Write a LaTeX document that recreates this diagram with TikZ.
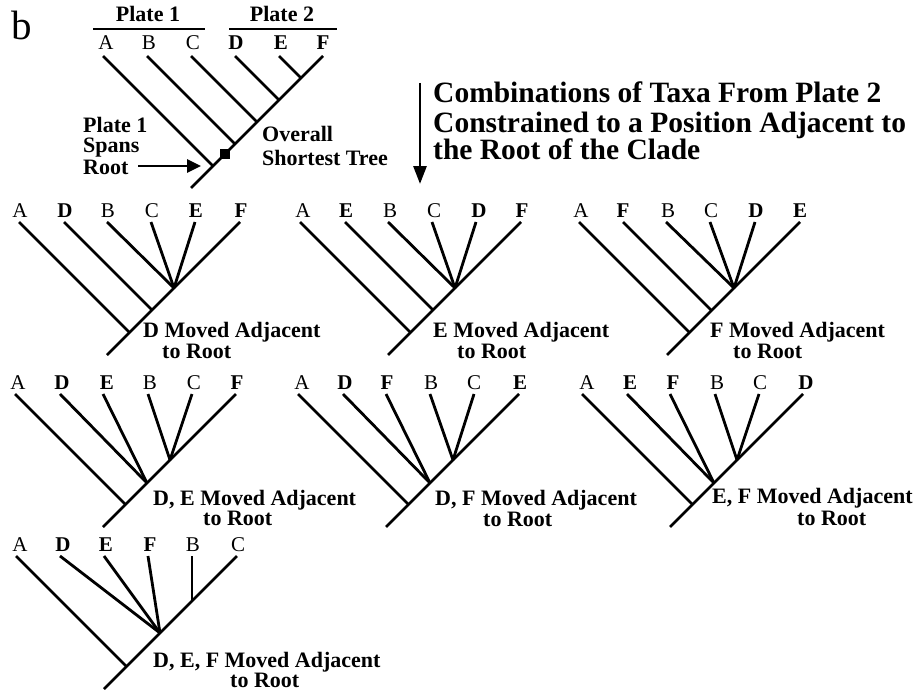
\documentclass[tikz,border=0pt]{standalone}
\usepackage{fontspec}
\setmainfont{Liberation Serif}
\usetikzlibrary{arrows.meta}
\tikzset{
  br/.style={line width=2.8pt},
  tx/.style={font=\fontsize{21}{22}\selectfont, inner sep=0pt, anchor=base},
  txb/.style={font=\bfseries\fontsize{21}{22}\selectfont, inner sep=0pt, anchor=base},
  lbl/.style={font=\bfseries\fontsize{22}{22}\selectfont, inner sep=0pt, anchor=base west},
  hdr/.style={font=\bfseries\fontsize{29.5}{28.5}\selectfont, inner sep=0pt, anchor=base west},
  arr/.style={line width=2.6pt, -{Triangle[length=14pt,width=13pt]}},
}
\begin{document}
\begin{tikzpicture}[x=1pt,y=-1pt]
\useasboundingbox (0,0) rectangle (918,690);

% panel letter
\node[font=\fontsize{41}{44}\selectfont, inner sep=0pt, anchor=base west] (panel) at (11,40) {b};

% ---------- top tree ----------
\node[lbl, anchor=base] (pl1) at (148,22) {Plate 1};
\node[lbl, anchor=base] (pl2) at (282,22) {Plate 2};
\coordinate (p1a) at (93,29); \coordinate (p1b) at (205,29);
\coordinate (p2a) at (229,29); \coordinate (p2b) at (337,29);
\draw[br] (p1a) -- (p1b);
\draw[br] (p2a) -- (p2b);

\coordinate (r0) at (191,188);
\coordinate (tA0) at (103,56); \coordinate (tB0) at (147,56); \coordinate (tC0) at (191,56);
\coordinate (tD0) at (235,56); \coordinate (tE0) at (279,56); \coordinate (tF0) at (323,56);
\coordinate (jA0) at (213,166); \coordinate (jB0) at (235,144); \coordinate (jC0) at (257,122);
\coordinate (jD0) at (279,100); \coordinate (jE0) at (301,78);
\draw[br] (r0) -- (tF0);
\draw[br] (tA0) -- (jA0);
\draw[br] (tB0) -- (jB0);
\draw[br] (tC0) -- (jC0);
\draw[br] (tD0) -- (jD0);
\draw[br] (tE0) -- (jE0);
\node[tx]  (lA0) at (106,50) {A};
\node[tx]  (lB0) at (149,50) {B};
\node[tx]  (lC0) at (193,50) {C};
\node[txb] (lD0) at (236,50) {D};
\node[txb] (lE0) at (281,50) {E};
\node[txb] (lF0) at (323,50) {F};
\node[fill=black, minimum size=10pt, inner sep=0pt] (sq) at (225,154) {};

\node[lbl] (sp1) at (83,132) {Plate 1};
\node[lbl] (sp2) at (83,153) {Spans};
\node[lbl] (sp3) at (83,175) {Root};
\coordinate (as) at (138,166); \coordinate (ae) at (201,166);
\draw[arr] (as) -- (ae);

\node[lbl] (ov1) at (262,142) {Overall};
\node[lbl] (ov2) at (262,165) {Shortest Tree};

% header arrow and text
\coordinate (da) at (420,83); \coordinate (db) at (420,184);
\draw[line width=2.8pt, -{Triangle[length=18pt,width=13pt]}] (da) -- (db);
\node[hdr] (h1) at (433,103) {Combinations of Taxa From Plate 2};
\node[hdr] (h2) at (433,132) {Constrained to a Position Adjacent to};
\node[hdr] (h3) at (433,160) {the Root of the Clade};

% ---------- tree 1 (D) ----------
\coordinate (r1) at (107,355); \coordinate (t16) at (240,222);
\coordinate (t11) at (19,222); \coordinate (t12) at (64,222); \coordinate (t13) at (107,222);
\coordinate (t14) at (151,222); \coordinate (t15) at (195,222);
\coordinate (j11) at (129.5,332.5); \coordinate (j12) at (152,310); \coordinate (P1) at (174,288);
\draw[br] (r1) -- (t16);
\draw[br] (t11) -- (j11);
\draw[br] (t12) -- (j12);
\draw[br] (t13) -- (P1);
\draw[br] (t14) -- (P1);
\draw[br] (t15) -- (P1);
\node[tx]  (l11) at (20,217) {A};
\node[txb] (l12) at (65,217) {D};
\node[tx]  (l13) at (108,217) {B};
\node[tx]  (l14) at (152,217) {C};
\node[txb] (l15) at (196,217) {E};
\node[txb] (l16) at (241,217) {F};
\node[lbl] (c1a) at (143,337) {D Moved Adjacent};
\node[lbl] (c1b) at (162,358) {to Root};

% ---------- tree 2 (E) ----------
\coordinate (r2) at (388,355); \coordinate (t26) at (521,222);
\coordinate (t21) at (300,222); \coordinate (t22) at (345,222); \coordinate (t23) at (388,222);
\coordinate (t24) at (432,222); \coordinate (t25) at (476,222);
\coordinate (j21) at (410.5,332.5); \coordinate (j22) at (433,310); \coordinate (P2) at (455,288);
\draw[br] (r2) -- (t26);
\draw[br] (t21) -- (j21);
\draw[br] (t22) -- (j22);
\draw[br] (t23) -- (P2);
\draw[br] (t24) -- (P2);
\draw[br] (t25) -- (P2);
\node[tx]  (l21) at (303,217) {A};
\node[txb] (l22) at (346,217) {E};
\node[tx]  (l23) at (390,217) {B};
\node[tx]  (l24) at (434,217) {C};
\node[txb] (l25) at (479,217) {D};
\node[txb] (l26) at (522,217) {F};
\node[lbl] (c2a) at (433,337) {E Moved Adjacent};
\node[lbl] (c2b) at (457,358) {to Root};

% ---------- tree 3 (F) ----------
\coordinate (r3) at (667,355); \coordinate (t36) at (800,222);
\coordinate (t31) at (579,222); \coordinate (t32) at (623,222); \coordinate (t33) at (666,222);
\coordinate (t34) at (710,222); \coordinate (t35) at (755,222);
\coordinate (j31) at (689.5,332.5); \coordinate (j32) at (711.5,310.5); \coordinate (P3) at (734,288);
\draw[br] (r3) -- (t36);
\draw[br] (t31) -- (j31);
\draw[br] (t32) -- (j32);
\draw[br] (t33) -- (P3);
\draw[br] (t34) -- (P3);
\draw[br] (t35) -- (P3);
\node[tx]  (l31) at (581,217) {A};
\node[txb] (l32) at (623,217) {F};
\node[tx]  (l33) at (668,217) {B};
\node[tx]  (l34) at (711,217) {C};
\node[txb] (l35) at (756,217) {D};
\node[txb] (l36) at (800,217) {E};
\node[lbl] (c3a) at (710,337) {F Moved Adjacent};
\node[lbl] (c3b) at (733,358) {to Root};

% ---------- tree 4 (D,E) ----------
\coordinate (r4) at (103,527); \coordinate (t46) at (236,394);
\coordinate (t41) at (15,394); \coordinate (t42) at (60,394); \coordinate (t43) at (103,394);
\coordinate (t44) at (148,394); \coordinate (t45) at (192,394);
\coordinate (j41) at (125.5,504.5); \coordinate (N42) at (147,483); \coordinate (N43) at (170,460);
\draw[br] (r4) -- (t46);
\draw[br] (t41) -- (j41);
\draw[br] (t42) -- (N42);
\draw[br] (t43) -- (N42);
\draw[br] (t44) -- (N43);
\draw[br] (t45) -- (N43);
\node[tx]  (l41) at (18,389) {A};
\node[txb] (l42) at (62,389) {D};
\node[txb] (l43) at (107,389) {E};
\node[tx]  (l44) at (150,389) {B};
\node[tx]  (l45) at (194,389) {C};
\node[txb] (l46) at (237,389) {F};
\node[lbl] (c4a) at (153,505) {D, E Moved Adjacent};
\node[lbl] (c4b) at (203,525) {to Root};

% ---------- tree 5 (D,F) ----------
\coordinate (r5) at (386,527); \coordinate (t56) at (519,394);
\coordinate (t51) at (298,394); \coordinate (t52) at (343,394); \coordinate (t53) at (386,394);
\coordinate (t54) at (430,394); \coordinate (t55) at (474,394);
\coordinate (j51) at (408.5,504.5); \coordinate (N52) at (430,483); \coordinate (N53) at (453,460);
\draw[br] (r5) -- (t56);
\draw[br] (t51) -- (j51);
\draw[br] (t52) -- (N52);
\draw[br] (t53) -- (N52);
\draw[br] (t54) -- (N53);
\draw[br] (t55) -- (N53);
\node[tx]  (l51) at (302,389) {A};
\node[txb] (l52) at (345,389) {D};
\node[txb] (l53) at (387,389) {F};
\node[tx]  (l54) at (431,389) {B};
\node[tx]  (l55) at (474,389) {C};
\node[txb] (l56) at (520,389) {E};
\node[lbl] (c5a) at (435,505) {D, F Moved Adjacent};
\node[lbl] (c5b) at (483,526) {to Root};

% ---------- tree 6 (E,F) ----------
\coordinate (r6) at (670,527); \coordinate (t66) at (803,394);
\coordinate (t61) at (582,394); \coordinate (t62) at (627,394); \coordinate (t63) at (670,394);
\coordinate (t64) at (715,394); \coordinate (t65) at (759,394);
\coordinate (j61) at (692.5,504.5); \coordinate (N62) at (714,483); \coordinate (N63) at (737,460);
\draw[br] (r6) -- (t66);
\draw[br] (t61) -- (j61);
\draw[br] (t62) -- (N62);
\draw[br] (t63) -- (N62);
\draw[br] (t64) -- (N63);
\draw[br] (t65) -- (N63);
\node[tx]  (l61) at (587,389) {A};
\node[txb] (l62) at (630,389) {E};
\node[txb] (l63) at (673,389) {F};
\node[tx]  (l64) at (717,389) {B};
\node[tx]  (l65) at (760,389) {C};
\node[txb] (l66) at (806,389) {D};
\node[lbl] (c6a) at (712,503) {E, F Moved Adjacent};
\node[lbl] (c6b) at (797,525) {to Root};

% ---------- tree 7 (D,E,F) ----------
\coordinate (r7) at (104,689); \coordinate (t76) at (237,556);
\coordinate (t71) at (16,556); \coordinate (t72) at (60,556); \coordinate (t73) at (104,556);
\coordinate (t74) at (148,556); \coordinate (t75) at (192,556);
\coordinate (j71) at (126.5,666.5); \coordinate (N7) at (160,633); \coordinate (j75) at (192,601);
\draw[br] (r7) -- (t76);
\draw[br] (t71) -- (j71);
\draw[br] (t72) -- (N7);
\draw[br] (t73) -- (N7);
\draw[br] (t74) -- (N7);
\draw[br] (t75) -- (j75);
\node[tx]  (l71) at (20,551) {A};
\node[txb] (l72) at (63,551) {D};
\node[txb] (l73) at (106,551) {E};
\node[txb] (l74) at (150,551) {F};
\node[tx]  (l75) at (193,551) {B};
\node[tx]  (l76) at (238,551) {C};
\node[lbl] (c7a) at (153,667) {D, E, F Moved Adjacent};
\node[lbl] (c7b) at (230,687) {to Root};
\end{tikzpicture}
\end{document}
